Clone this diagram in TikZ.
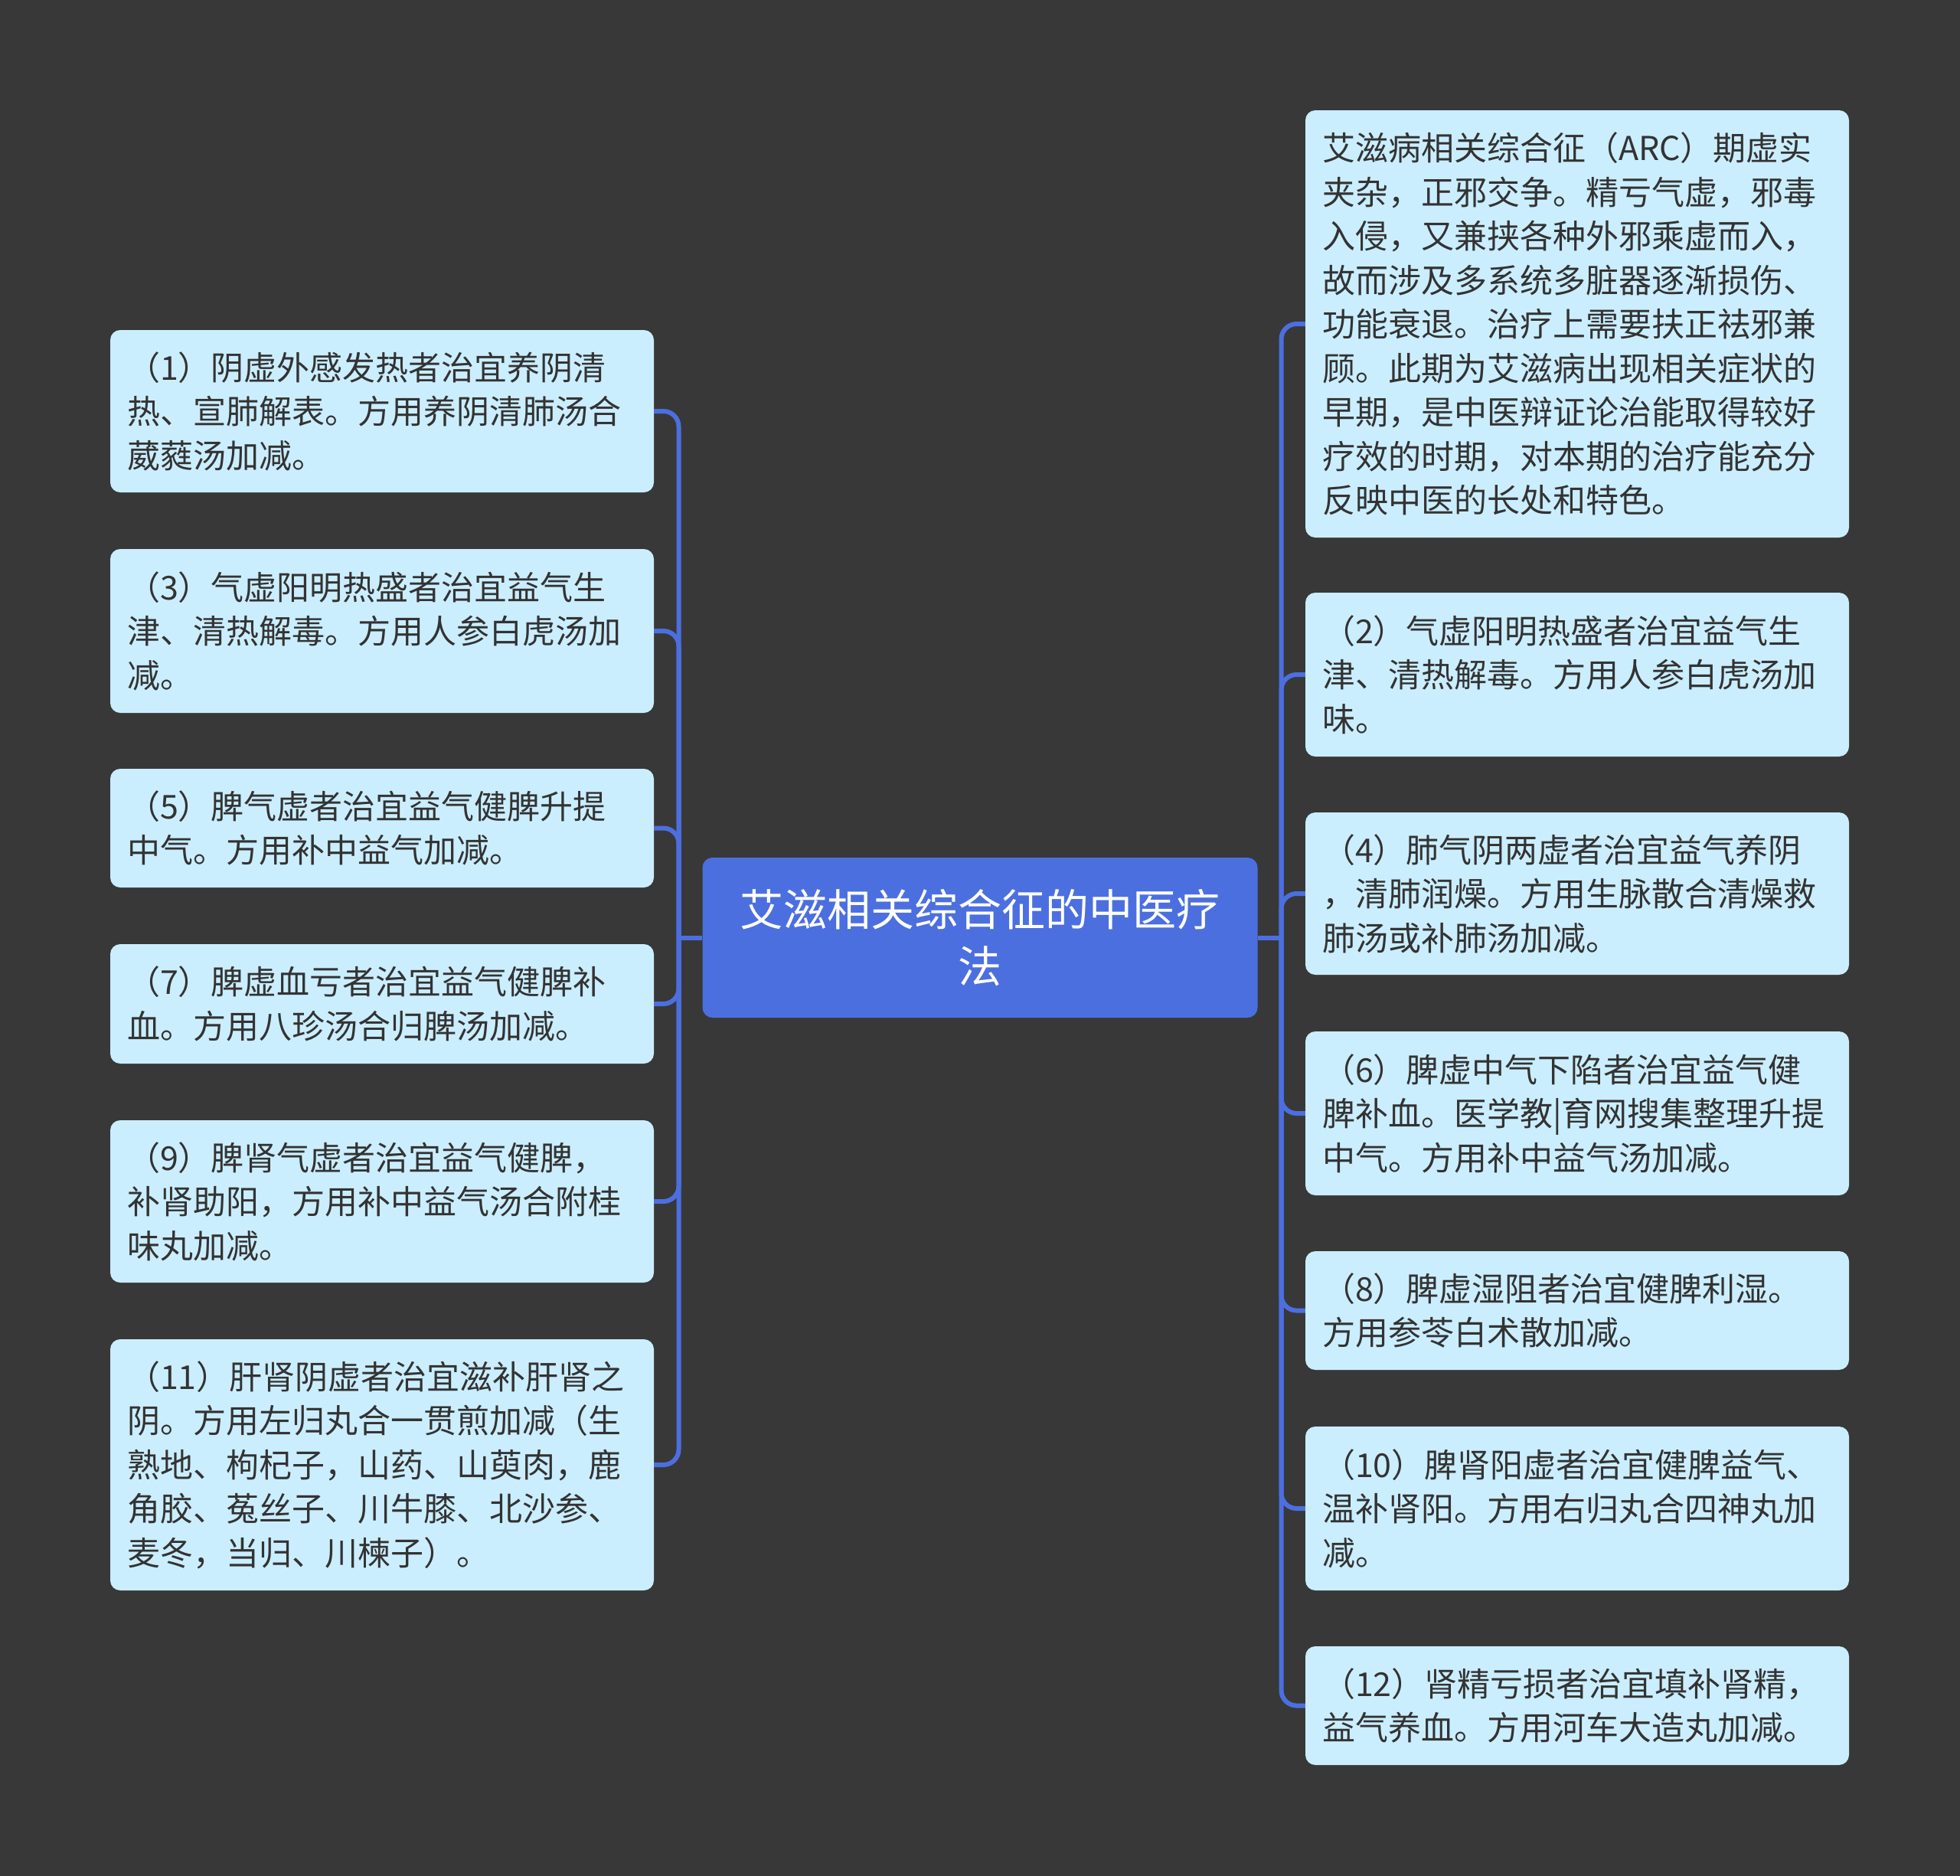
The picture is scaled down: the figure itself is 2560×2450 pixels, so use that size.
\documentclass[tikz,border=0pt]{standalone}
\usepackage{fontspec}
\setmainfont{Noto Sans CJK SC}
\definecolor{bg}{HTML}{383838}
\definecolor{leaffill}{HTML}{CBEEFE}
\definecolor{rootblue}{HTML}{4C6FE0}
\definecolor{linkblue}{HTML}{4C6FE0}
\definecolor{txt}{HTML}{333333}
\tikzset{
  leaf/.style={draw=none, fill=leaffill, rounded corners=13pt, minimum width=710pt,
    text width=666pt, inner xsep=22pt, inner ysep=0pt, align=left, text=txt,
    font=\fontsize{43pt}{57.5pt}\selectfont},
  rootbox/.style={fill=rootblue, rounded corners=13pt, minimum width=725pt, minimum height=209pt,
    text width=700pt, align=center, text=white, inner sep=0pt,
    font=\fontsize{57pt}{73.5pt}\selectfont},
  conn/.style={draw=linkblue, line width=6pt},
  elbowlink/.style={conn, rounded corners=20pt}
}
\begin{document}
\begin{tikzpicture}[x=1pt,y=-1pt]
\fill[bg] (0,0) rectangle (2560,2450);
\useasboundingbox (0,0) rectangle (2560,2450);

\node[rootbox] (c) at (1280,1224.5) {艾滋相关综合征的中医疗\\法};

% left
\node[leaf, minimum height=212pt] (l1) at (499,537) {（1）阴虚外感发热者治宜养阴清\\热、宣肺解表。方用养阴清肺汤合\\葳蕤汤加减。};
\node[leaf, minimum height=214pt] (l3) at (499,824) {（3）气虚阳明热盛者治宜益气生\\津、清热解毒。方用人参白虎汤加\\减。};
\node[leaf, minimum height=155pt] (l5) at (499,1081.5) {（5）脾气虚者治宜益气健脾升提\\中气。方用补中益气加减。};
\node[leaf, minimum height=156pt] (l7) at (499,1311) {（7）脾虚血亏者治宜益气健脾补\\血。方用八珍汤合归脾汤加减。};
\node[leaf, minimum height=212pt] (l9) at (499,1569) {（9）脾肾气虚者治宜益气健脾，\\补肾助阳，方用补中益气汤合附桂\\味丸加减。};
\node[leaf, minimum height=328pt] (l11) at (499,1913) {（11）肝肾阴虚者治宜滋补肝肾之\\阴。方用左归丸合一贯煎加减（生\\熟地、枸杞子，山药、山萸肉，鹿\\角胶、菟丝子、川牛膝、北沙参、\\麦冬，当归、川楝子）。};

% right
\node[leaf, minimum height=558pt] (r0) at (2060,423) {艾滋病相关综合征（ARC）期虚实\\夹杂，正邪交争。精亏气虚，邪毒\\入侵，又兼挟各种外邪乘虚而入，\\故而涉及多系统多脏器逐渐损伤、\\功能衰退。治疗上需要扶正祛邪兼\\顾。此期为艾滋病出现相关症状的\\早期，是中医辩证论治能取得较好\\疗效的时期，对本期的治疗能充分\\反映中医的长处和特色。};
\node[leaf, minimum height=214pt] (r2) at (2060,881) {（2）气虚阳明热盛者治宜益气生\\津、清热解毒。方用人参白虎汤加\\味。};
\node[leaf, minimum height=212pt] (r4) at (2060,1167) {（4）肺气阴两虚者治宜益气养阴\\，清肺润燥。方用生脉散合清燥救\\肺汤或补肺汤加减。};
\node[leaf, minimum height=214pt] (r6) at (2060,1454) {（6）脾虚中气下陷者治宜益气健\\脾补血。医学教|育网搜集整理升提\\中气。方用补中益气汤加减。};
\node[leaf, minimum height=155pt] (r8) at (2060,1711.5) {（8）脾虚湿阻者治宜健脾利湿。\\方用参苓白术散加减。};
\node[leaf, minimum height=214pt] (r10) at (2060,1970) {（10）脾肾阳虚者治宜健脾益气、\\温补肾阳。方用右归丸合四神丸加\\减。};
\node[leaf, minimum height=155pt] (r12) at (2060,2227.5) {（12）肾精亏损者治宜填补肾精，\\益气养血。方用河车大造丸加减。};

\coordinate (cl) at (886.5,1224.5);
\coordinate (cr) at (1673.5,1224.5);
\draw[conn] (c.west) -- (cl);
\draw[conn] (c.east) -- (cr);
\foreach \n in {l1,l3,l5,l7,l9,l11} {\draw[elbowlink] (cl) |- (\n.east);}
\foreach \n in {r0,r2,r4,r6,r8,r10,r12} {\draw[elbowlink] (cr) |- (\n.west);}
\end{tikzpicture}
\end{document}
